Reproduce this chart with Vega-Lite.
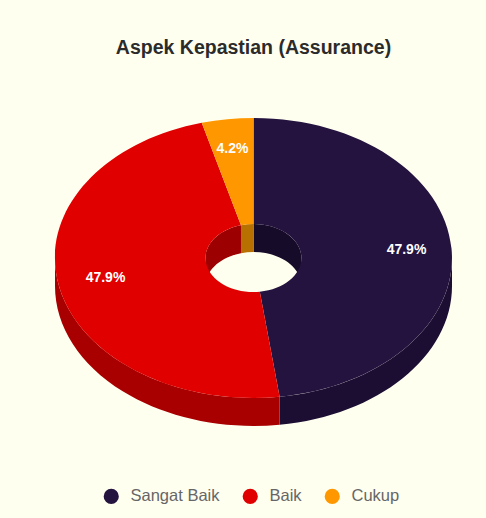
{
  "$schema": "https://vega.github.io/schema/vega-lite/v6.json",
  "width": 465,
  "height": 516,
  "padding": {"left": 21, "top": 0, "right": 0, "bottom": 2},
  "autosize": "none",
  "background": "#fffff0",
  "view": {"stroke": null},
  "title": {
    "text": "Aspek Kepastian (Assurance)",
    "anchor": "middle",
    "frame": "group",
    "offset": -58,
    "font": "Liberation Sans",
    "fontSize": 19.5,
    "fontWeight": "bold",
    "color": "#2b2b2b"
  },
  "datasets": {
    "slices": [
      {"category": "Sangat Baik", "share": 0.479},
      {"category": "Baik", "share": 0.479},
      {"category": "Cukup", "share": 0.042}
    ]
  },
  "data": {"name": "slices"},
  "layer": [
    {
      "transform": [{"filter": "datum.category !== 'Cukup'"}],
      "mark": {"type": "point", "filled": true, "size": 4, "opacity": 1, "strokeWidth": 0},
      "encoding": {
        "shape": {
          "field": "category", "type": "nominal", "legend": null,
          "scale": {
            "domain": ["Sangat Baik", "Baik"],
            "range": [
              "M26.12,138.78 A198.5,140 0 0 0 198.5,0 L198.5,28 A198.5,140 0 0 1 26.12,166.78 Z",
              "M-198.5,0 A198.5,140 0 0 0 26.12,138.78 L26.12,166.78 A198.5,140 0 0 1 -198.5,28 Z"
            ]
          }
        },
        "fill": {
          "condition": {"test": "datum.category === 'Baik'", "value": "#a80000"},
          "value": "#1c0e33"
        }
      }
    },
    {
      "mark": {"type": "point", "filled": true, "size": 4, "opacity": 1, "strokeWidth": 0},
      "encoding": {
        "shape": {
          "field": "category", "type": "nominal", "legend": null,
          "scale": {
            "domain": ["Sangat Baik", "Baik", "Cukup"],
            "range": [
              "M0,-34 A48,34 0 0 1 48,0 L48,28 A48,34 0 0 0 0,-6 Z",
              "M-48,0 A48,34 0 0 1 -12.52,-32.82 L-12.52,-4.82 A48,34 0 0 0 -48,28 Z",
              "M-12.52,-32.82 A48,34 0 0 1 0,-34 L0,-6 A48,34 0 0 0 -12.52,-4.82 Z"
            ]
          }
        },
        "fill": {
          "condition": [
            {"test": "datum.category === 'Baik'", "value": "#9c0000"},
            {"test": "datum.category === 'Cukup'", "value": "#b87000"}
          ],
          "value": "#170b2a"
        }
      }
    },
    {
      "mark": {"type": "point", "filled": true, "size": 4, "opacity": 1, "strokeWidth": 0},
      "encoding": {
        "shape": {
          "field": "category", "type": "nominal", "legend": null,
          "scale": {
            "domain": ["Sangat Baik", "Baik", "Cukup"],
            "range": [
              "M0,-140 A198.5,140 0 0 1 26.12,138.78 L6.32,33.7 A48,34 0 0 0 0,-34 Z",
              "M26.12,138.78 A198.5,140 0 0 1 -51.77,-135.16 L-12.52,-32.82 A48,34 0 0 0 6.32,33.7 Z",
              "M-51.77,-135.16 A198.5,140 0 0 1 0,-140 L0,-34 A48,34 0 0 0 -12.52,-32.82 Z"
            ]
          }
        },
        "fill": {
          "field": "category", "type": "nominal", "title": null,
          "scale": {"domain": ["Sangat Baik", "Baik", "Cukup"], "range": ["#24123f", "#e00000", "#ff9800"]},
          "legend": {
            "orient": "none",
            "direction": "horizontal",
            "legendX": 82,
            "legendY": 488,
            "symbolType": "circle",
            "symbolSize": 230,
            "symbolStrokeWidth": 0,
            "labelFont": "Liberation Sans",
            "labelFontSize": 16.5,
            "labelColor": "#666666",
            "labelOffset": 11,
            "columnPadding": 22
          }
        }
      }
    },
    {
      "transform": [{"filter": "datum.category === 'Sangat Baik'"}],
      "mark": {"type": "text", "font": "Liberation Sans", "fontSize": 14, "fontWeight": "bold", "color": "#ffffff", "dx": 153, "dy": -8},
      "encoding": {"text": {"field": "share", "type": "quantitative", "format": ".1%"}}
    },
    {
      "transform": [{"filter": "datum.category === 'Baik'"}],
      "mark": {"type": "text", "font": "Liberation Sans", "fontSize": 14, "fontWeight": "bold", "color": "#ffffff", "dx": -148, "dy": 20},
      "encoding": {"text": {"field": "share", "type": "quantitative", "format": ".1%"}}
    },
    {
      "transform": [{"filter": "datum.category === 'Cukup'"}],
      "mark": {"type": "text", "font": "Liberation Sans", "fontSize": 14, "fontWeight": "bold", "color": "#ffffff", "dx": -21, "dy": -109},
      "encoding": {"text": {"field": "share", "type": "quantitative", "format": ".1%"}}
    }
  ],
  "resolve": {"scale": {"shape": "independent"}}
}
